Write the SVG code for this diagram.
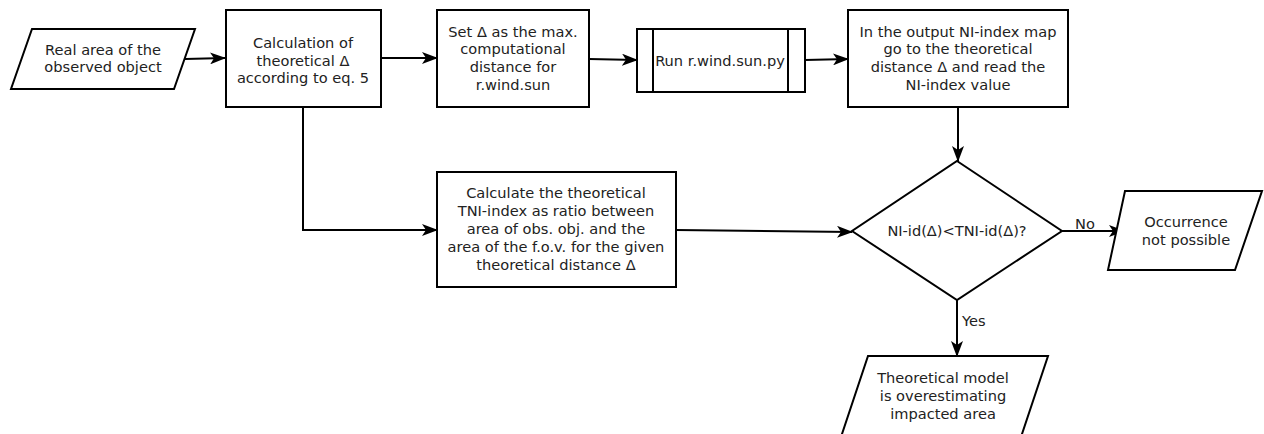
<svg xmlns="http://www.w3.org/2000/svg" width="1264" height="434" viewBox="0 0 1264 434">
  <style>
    .shape { fill: #ffffff; stroke: #000000; stroke-width: 2; }
    .link { fill: none; stroke: #000000; stroke-width: 2; }
    text { font-family: "DejaVu Sans", "Liberation Sans", sans-serif; font-size: 14.6px; fill: #222222; text-anchor: middle; }
    .lbl { text-anchor: start; }
  </style>
  <defs>
    <marker id="arrow" viewBox="0 0 16 12" refX="15" refY="6" markerWidth="16" markerHeight="12" markerUnits="userSpaceOnUse" orient="auto">
      <path d="M0,0 L16,6 L0,12 L4,6 Z" fill="#000000"/>
    </marker>
  </defs>

  <rect width="1264" height="434" fill="#ffffff"/>

  <!-- connectors -->
  <g id="connectors">
    <path class="link" d="M185,59 L225,58" marker-end="url(#arrow)"/>
    <path class="link" d="M381,58 L437,58" marker-end="url(#arrow)"/>
    <path class="link" d="M589,59 L637,60" marker-end="url(#arrow)"/>
    <path class="link" d="M805,60 L848,59" marker-end="url(#arrow)"/>
    <path class="link" d="M958,107 L958,161" marker-end="url(#arrow)"/>
    <path class="link" d="M303,107 L303,230 L437,230" marker-end="url(#arrow)"/>
    <path class="link" d="M676,230 L852,232" marker-end="url(#arrow)"/>
    <path class="link" d="M1062,231 L1124,231" marker-end="url(#arrow)"/>
    <path class="link" d="M957,300 L957,356" marker-end="url(#arrow)"/>
    <text class="lbl" x="1075" y="229">No</text>
    <text class="lbl" x="962" y="326">Yes</text>
  </g>

  <!-- input: real area -->
  <g id="real-area">
    <polygon class="shape" points="32,29 195,29 174,89 11,89"/>
    <text x="103" y="55">Real area of the</text>
    <text x="103" y="72">observed object</text>
  </g>

  <!-- calculation of theoretical delta -->
  <g id="calc-delta">
    <rect class="shape" x="226" y="10" width="155" height="97"/>
    <text x="303" y="48">Calculation of</text>
    <text x="303" y="66">theoretical Δ</text>
    <text x="303" y="83">according to eq. 5</text>
  </g>

  <!-- set max distance -->
  <g id="set-delta">
    <rect class="shape" x="437" y="10" width="152" height="97"/>
    <text x="513" y="37">Set Δ as the max.</text>
    <text x="513" y="54">computational</text>
    <text x="513" y="72">distance for</text>
    <text x="513" y="90">r.wind.sun</text>
  </g>

  <!-- predefined process -->
  <g id="run-script">
    <rect class="shape" x="637" y="29" width="168" height="63"/>
    <line class="link" x1="653" y1="29" x2="653" y2="92"/>
    <line class="link" x1="788" y1="29" x2="788" y2="92"/>
    <text x="720" y="66">Run r.wind.sun.py</text>
  </g>

  <!-- read NI-index -->
  <g id="read-ni">
    <rect class="shape" x="848" y="10" width="220" height="97"/>
    <text x="958" y="37">In the output NI-index map</text>
    <text x="958" y="54">go to the theoretical</text>
    <text x="958" y="72">distance Δ and read the</text>
    <text x="958" y="90">NI-index value</text>
  </g>

  <!-- TNI-index -->
  <g id="calc-tni">
    <rect class="shape" x="437" y="172" width="239" height="115"/>
    <text x="556" y="198">Calculate the theoretical</text>
    <text x="556" y="216">TNI-index as ratio between</text>
    <text x="556" y="234">area of obs. obj. and the</text>
    <text x="556" y="252">area of the f.o.v. for the given</text>
    <text x="556" y="270">theoretical distance Δ</text>
  </g>

  <!-- decision -->
  <g id="decision">
    <polygon class="shape" points="957,161 1062,231 957,300 852,231"/>
    <text x="957" y="236">NI-id(Δ)&lt;TNI-id(Δ)?</text>
  </g>

  <!-- outcome: no -->
  <g id="not-possible">
    <polygon class="shape" points="1125,191 1262,191 1235,270 1108,270"/>
    <text x="1186" y="227">Occurrence</text>
    <text x="1186" y="245">not possible</text>
  </g>

  <!-- outcome: yes -->
  <g id="overestimating">
    <polygon class="shape" points="868,356 1048,356 1020,440 840,440"/>
    <text x="943" y="383">Theoretical model</text>
    <text x="943" y="401">is overestimating</text>
    <text x="943" y="419">impacted area</text>
  </g>
</svg>
